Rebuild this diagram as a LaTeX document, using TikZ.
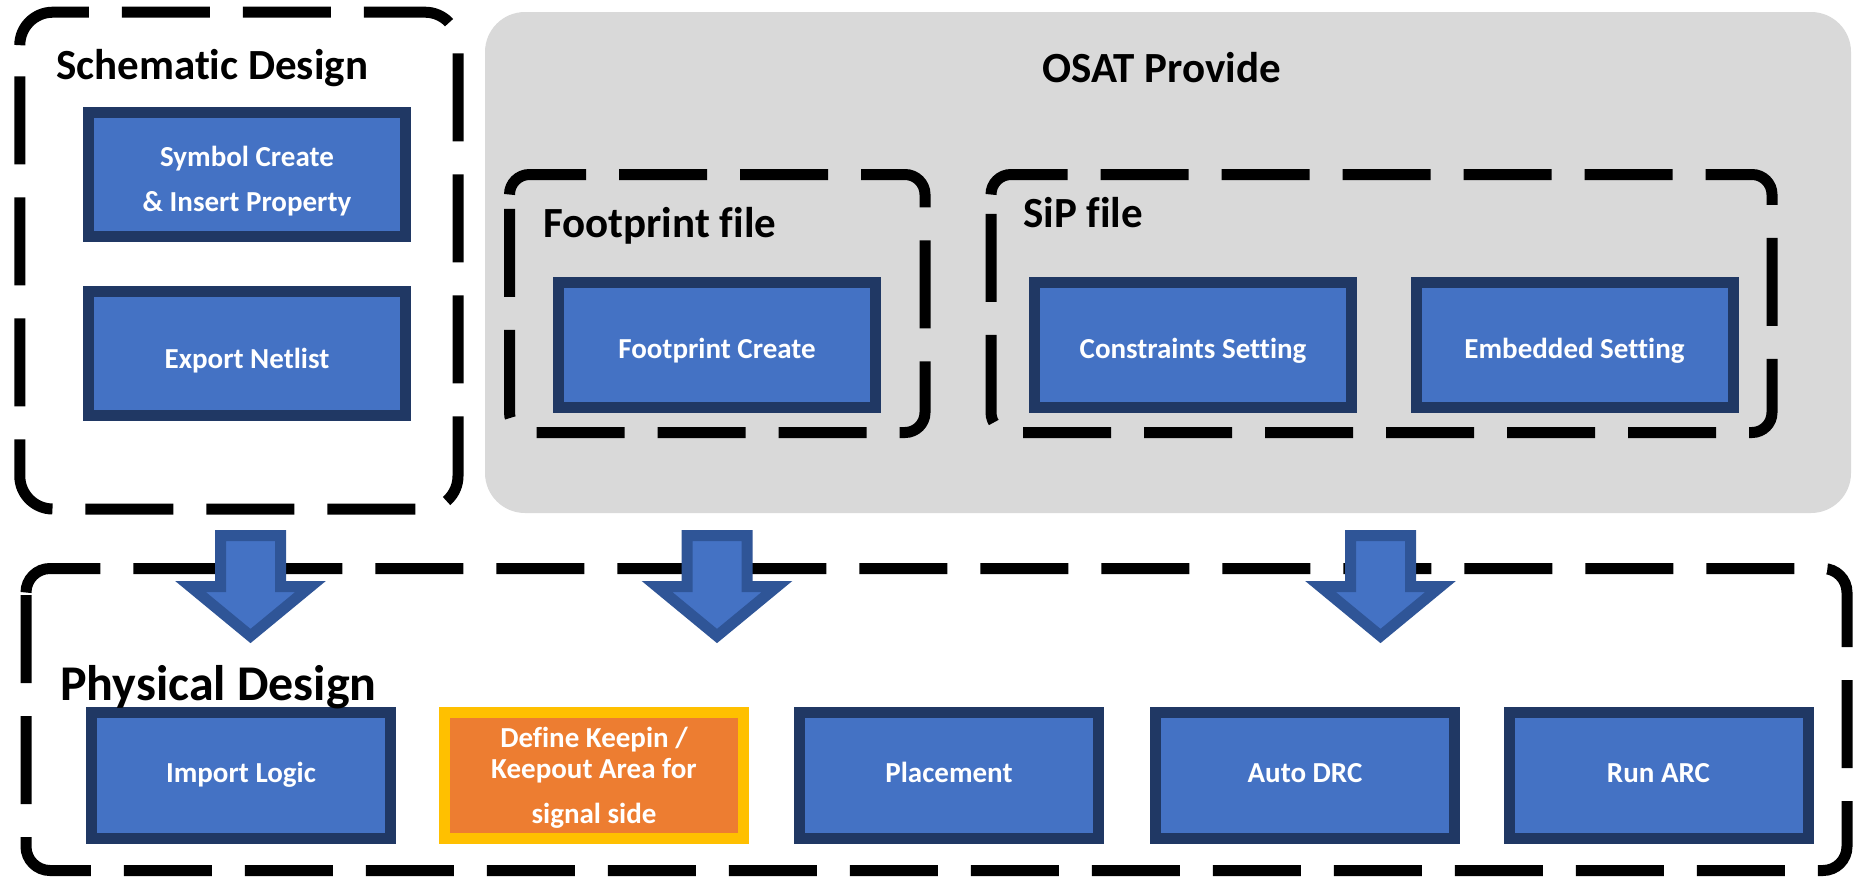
\documentclass[tikz,border=0pt]{standalone}
\usepackage{fontspec}
\setmainfont{Carlito}[Ligatures={NoCommon}]
\definecolor{boxblue}{HTML}{4472C4}
\definecolor{boxedge}{HTML}{203864}
\definecolor{arrowedge}{HTML}{2F5597}
\definecolor{panelgray}{HTML}{D9D9D9}
\definecolor{keeporange}{HTML}{ED7D31}
\definecolor{keepyellow}{HTML}{FFC000}
\begin{document}
\begin{tikzpicture}[x=1pt,y=-1pt,
  topbox/.style={draw=boxedge, fill=boxblue, line width=11pt, minimum width=317pt, minimum height=124.5pt, inner sep=0pt},
  botbox/.style={draw=boxedge, fill=boxblue, line width=11pt, minimum width=299pt, minimum height=126pt, inner sep=0pt},
  keepbox/.style={draw=keepyellow, fill=keeporange, line width=11pt, minimum width=299pt, minimum height=126pt, inner sep=0pt},
  panel/.style={fill=panelgray, rounded corners=40pt, minimum width=1366pt, minimum height=501pt, inner sep=0pt},
  heading/.style={font=\fontsize{43}{52}\selectfont\bfseries, anchor=base west, inner sep=0pt},
  boxtext/.style={font=\fontsize{29}{35}\selectfont\bfseries, text=white, anchor=base, inner sep=0pt},
  dashbox/.style={draw=black, line width=11pt, dash pattern=on 88pt off 33pt},
  blockarrow/.style={draw=arrowedge, fill=boxblue, line width=11pt, line join=miter}
]
\useasboundingbox (0,0) rectangle (1853,876);

% OSAT panel
\node[panel] (osat) at (1168,262.5) {};

% dashed group frames
\draw[dashbox, rounded corners=33pt] (19.8,45.2) -- (19.8,12.2) -- (458,12.2) -- (458,509) -- (19.8,509) -- (19.8,45.2);
\draw[dashbox, rounded corners=20pt] (509.5,194.5) -- (509.5,174.5) -- (925,174.5) -- (925,432.5) -- (509.5,432.5) -- (509.5,194.5);
\draw[dashbox, rounded corners=20pt] (991,194.5) -- (991,174.5) -- (1772,174.5) -- (1772,432.5) -- (991,432.5) -- (991,194.5);
\draw[dashbox, rounded corners=24pt] (26,592.5) -- (26,568.5) -- (1847,568.5) -- (1847,870.5) -- (26,870.5) -- (26,592.5);

% headings
\node[heading] (hSch) at (56,79) {Schematic Design};
\node[heading] (hOsat) at (1042,82) {OSAT Provide};
\node[heading] (hFp) at (543,237) {Footprint file};
\node[heading] (hSip) at (1023,227) {SiP file};

% top boxes
\node[topbox] (sym) at (247,174.5) {};
\node[boxtext] (symA) at (247,166) {Symbol Create};
\node[boxtext] (symB) at (247,211) {\& Insert Property};
\node[topbox] (exp) at (247,353.5) {};
\node[boxtext] (expT) at (247,368) {Export Netlist};
\node[topbox] (fpc) at (717,345) {};
\node[boxtext] (fpcT) at (717,358) {Footprint Create};
\node[topbox] (con) at (1193,345) {};
\node[boxtext] (conT) at (1193,358) {Constraints Setting};
\node[topbox] (emb) at (1574.5,345) {};
\node[boxtext] (embT) at (1574.5,358) {Embedded Setting};

% bottom boxes
\node[botbox] (imp) at (241,775.5) {};
\node[boxtext] (impT) at (241,782) {Import Logic};
\node[keepbox] (keep) at (594,775.5) {};
\node[boxtext] (keepA) at (594,747) {Define Keepin /};
\node[boxtext] (keepB) at (594,778.5) {Keepout Area for};
\node[boxtext] (keepC) at (594,823) {signal side};
\node[botbox] (plc) at (949,775.5) {};
\node[boxtext] (plcT) at (949,782) {Placement};
\node[botbox] (drc) at (1305,775.5) {};
\node[boxtext] (drcT) at (1305,782) {Auto DRC};
\node[botbox] (arc) at (1658.5,775.5) {};
\node[boxtext] (arcT) at (1658.5,782) {Run ARC};

\node[heading, font=\fontsize{50}{60}\selectfont\bfseries] (hPhy) at (60,700) {Physical Design};

% block arrows
\coordinate (arrA) at (250.5,535.5);
\coordinate (arrB) at (717,535.5);
\coordinate (arrC) at (1380.5,535.5);
\foreach \a in {arrA,arrB,arrC}{
  \draw[blockarrow] (\a) ++(-30,0) -- ++(60,0) -- ++(0,51) -- ++(30,0) -- ++(-60,49.5) -- ++(-60,-49.5) -- ++(30,0) -- cycle;
}
\end{tikzpicture}
\end{document}
